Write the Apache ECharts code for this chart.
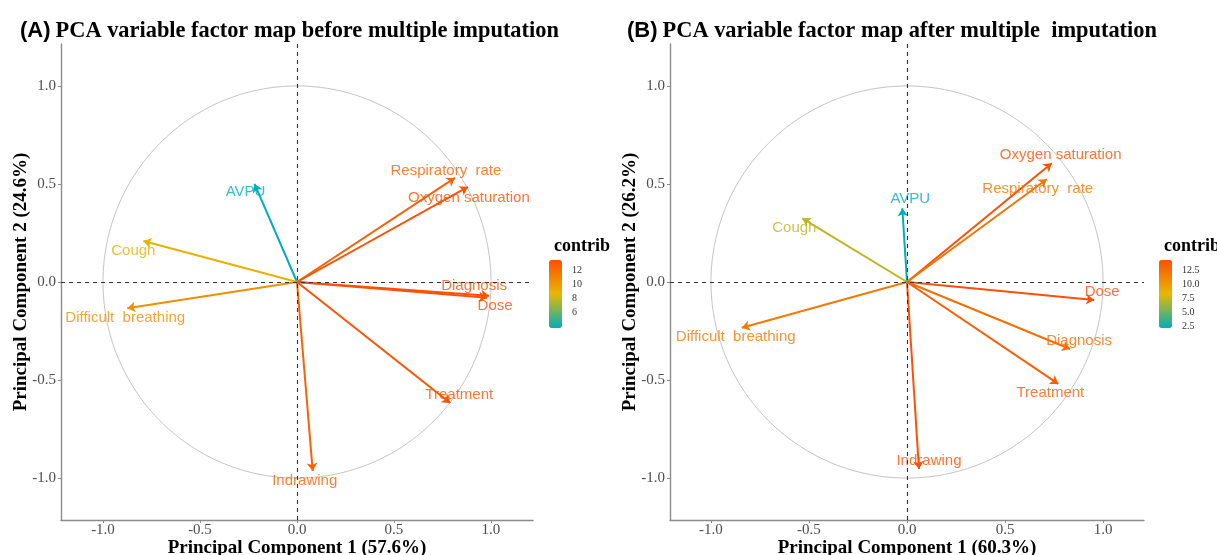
<!DOCTYPE html>
<html><head><meta charset="utf-8">
<script src="https://cdn.jsdelivr.net/npm/echarts@6/dist/echarts.min.js"></script>
<style>html,body{margin:0;padding:0;background:#fff}#c{width:1217px;height:555px}</style>
</head><body><div id="c"></div>
<script>
// ---- Panel A data (before multiple imputation) ----
const varsA = ['Respiratory  rate','Oxygen saturation','Diagnosis','Dose','Treatment','Indrawing','AVPU','Cough','Difficult  breathing'];
const pc1A = [0.814, 0.881, 0.99, 0.98, 0.79, 0.081, -0.219, -0.792, -0.875];
const pc2A = [0.531, 0.485, -0.07, -0.08, -0.617, -0.964, 0.5, 0.209, -0.134];
const contribA = [12.6, 13.3, 13.3, 13.4, 13.2, 12.6, 3.9, 9.0, 10.6];
const contribRangeA = [3.86, 13.47];
const legendTicksA = [6, 8, 10, 12];

// ---- Panel B data (after multiple imputation) ----
const varsB = ['Oxygen saturation','Respiratory  rate','Dose','Diagnosis','Treatment','Indrawing','AVPU','Cough','Difficult  breathing'];
const pc1B = [0.738, 0.713, 0.955, 0.832, 0.772, 0.061, -0.024, -0.534, -0.843];
const pc2B = [0.606, 0.524, -0.092, -0.342, -0.52, -0.954, 0.376, 0.325, -0.233];
const contribB = [14.1, 12.1, 14.3, 12.5, 13.4, 14.2, 2.2, 7.2, 11.9];
const contribRangeB = [2.2, 14.35];
const legendTicksB = [2.5, 5, 7.5, 10, 12.5];

const axisTicks = [-1, -0.5, 0, 0.5, 1];
const titleA = 'PCA variable factor map before multiple imputation';
const titleB = 'PCA variable factor map after multiple  imputation';
const xNameA = 'Principal Component 1 (57.6%)', yNameA = 'Principal Component 2 (24.6%)';
const xNameB = 'Principal Component 1 (60.3%)', yNameB = 'Principal Component 2 (26.2%)';

// ---- styling (label pixel offsets) ----
const offA = [[-9,-7],[1,11],[-15,-10],[8,8],[9,-8],[-8,10],[-9,8],[-10,10],[-2,10]];
const offB = [[9,-8],[-9,10],[8,-8],[9,-8],[-8,9],[10,-8],[8,-9],[-8,10],[-6,9]];
const gradCols = ['#00AFBB','#E7B800','#FC4E07'];

function hex2rgb(h){return [parseInt(h.slice(1,3),16),parseInt(h.slice(3,5),16),parseInt(h.slice(5,7),16)];}
function colorOf(v, lo, hi){
  let t = (v-lo)/(hi-lo); t = Math.max(0, Math.min(1, t));
  const seg = t*(gradCols.length-1); const i = Math.min(Math.floor(seg), gradCols.length-2); const f = seg - i;
  const a = hex2rgb(gradCols[i]), b = hex2rgb(gradCols[i+1]);
  return 'rgb(' + a.map((c,k)=>Math.round(c+(b[k]-c)*f)).join(',') + ')';
}

const circle = [];
for (let k = 0; k <= 360; k++) { const a = k*Math.PI/180; circle.push([Math.cos(a), Math.sin(a)]); }

const serif = '"Liberation Serif","Times New Roman",serif';
const sans = '"Liberation Sans",Arial,Helvetica,sans-serif';

function plotAxes(gi, xr, yr, xName, yName){
  const common = {
    type:'value', gridIndex: gi, splitLine:{show:false},
    axisLine:{show:true, onZero:false, lineStyle:{color:'#8c8c8c', width:1.4}},
    axisTick:{show:true, length:3, customValues: axisTicks, lineStyle:{color:'#8c8c8c'}},
    axisLabel:{customValues: axisTicks, formatter: v => v.toFixed(1), fontFamily: serif, fontSize:15, color:'#4d4d4d'},
    nameLocation:'middle', nameMoveOverlap:false,
    nameTextStyle:{fontFamily: serif, fontWeight:'bold', fontSize:19, color:'#000'}
  };
  const x = Object.assign({}, common, {min:-xr, max:xr, position:'bottom', name:xName, nameGap:19});
  x.axisLabel = Object.assign({}, common.axisLabel, {margin:3});
  const y = Object.assign({}, common, {min:-yr, max:yr, position:'left', name:yName, nameGap:30});
  y.axisLabel = Object.assign({}, common.axisLabel, {margin:5});
  return [x, y];
}

function panelSeries(gi, vars, p1, p2, contrib, rng, offs){
  const lineData = vars.map((n,i)=>({coords:[[0,0],[p1[i],p2[i]]], lineStyle:{color: colorOf(contrib[i], rng[0], rng[1])}}));
  const labelData = vars.map((n,i)=>({name:n, value:[p1[i],p2[i],contrib[i]],
    label:{offset: offs[i], color: colorOf(contrib[i], rng[0], rng[1])}}));
  return [
    {type:'line', xAxisIndex:gi, yAxisIndex:gi, data: circle, showSymbol:false, silent:true, z:1,
     lineStyle:{color:'#c4c4c4', width:1},
     markLine:{silent:true, symbol:'none', label:{show:false},
       lineStyle:{color:'#333', type:[4,4], width:1.1},
       data:[{xAxis:0},{yAxis:0}]}},
    {type:'lines', coordinateSystem:'cartesian2d', xAxisIndex:gi, yAxisIndex:gi, z:3, silent:true,
     symbol:['none','arrow'], symbolSize:[0,8],
     lineStyle:{width:2, opacity:1}, data: lineData},
    {type:'scatter', xAxisIndex:gi, yAxisIndex:gi, z:4, symbolSize:0.1, silent:true,
     label:{show:true, position:'inside', formatter: p=>p.name, fontFamily: sans, fontSize:15, align:'center', verticalAlign:'middle'},
     data: labelData}
  ];
}

const [xA, yA] = plotAxes(0, 1.2165, 1.214, xNameA, yNameA);
const [xB, yB] = plotAxes(1, 1.209, 1.214, xNameB, yNameB);

function legendAxes(gi, rng, ticks, dec){
  return [
    {type:'value', gridIndex:gi, show:false, min:0, max:1},
    {type:'value', gridIndex:gi, min:rng[0], max:rng[1], position:'right', splitLine:{show:false},
     axisLine:{show:false}, axisTick:{show:true, inside:true, length:3, customValues:ticks, lineStyle:{color:'rgba(255,255,255,0.7)'}},
     axisLabel:{customValues:ticks, margin:10, formatter: v=>v.toFixed(dec), fontFamily: serif, fontSize:10, color:'#333'}}
  ];
}
const [lxA, lyA] = legendAxes(2, contribRangeA, legendTicksA, 0);
const [lxB, lyB] = legendAxes(3, contribRangeB, legendTicksB, 1);

const chart = echarts.init(document.getElementById('c'), null, {renderer:'canvas'});
chart.setOption({
  backgroundColor:'#fff',
  animation:false,
  title:[
    {text:'{a|(A)} {b|' + titleA + '}', left:15, top:15,
     textStyle:{rich:{a:{fontFamily:sans, fontSize:22, color:'#000'}, b:{fontFamily:serif, fontWeight:'bold', fontSize:22.4, color:'#000'}}}},
    {text:'{a|(B)} {b|' + titleB + '}', left:622, top:15,
     textStyle:{rich:{a:{fontFamily:sans, fontSize:22, color:'#000'}, b:{fontFamily:serif, fontWeight:'bold', fontSize:22.4, color:'#000'}}}},
    {text:'contrib', left:549, top:232, textStyle:{fontFamily:serif, fontWeight:'bold', fontSize:18, color:'#000'}},
    {text:'contrib', left:1159, top:232, textStyle:{fontFamily:serif, fontWeight:'bold', fontSize:18, color:'#000'}}
  ],
  grid:[
    {left:61, top:44, width:472, height:476, outerBoundsMode:'none', containLabel:false},
    {left:670, top:44, width:474, height:476, outerBoundsMode:'none', containLabel:false},
    {left:549, top:260, width:13, height:68, outerBoundsMode:'none', containLabel:false},
    {left:1159, top:260, width:13, height:68, outerBoundsMode:'none', containLabel:false}
  ],
  xAxis:[xA, xB, lxA, lxB],
  yAxis:[yA, yB, lyA, lyB],
  visualMap:[
    {type:'continuous', min:contribRangeA[0], max:contribRangeA[1], seriesIndex:2, dimension:2,
     left:549, top:260, itemWidth:13, itemHeight:68, padding:0, calculable:false, hoverLink:false,
     inRange:{color:gradCols}},
    {type:'continuous', min:contribRangeB[0], max:contribRangeB[1], seriesIndex:5, dimension:2,
     left:1159, top:260, itemWidth:13, itemHeight:68, padding:0, calculable:false, hoverLink:false,
     inRange:{color:gradCols}}
  ],
  series:[].concat(
    panelSeries(0, varsA, pc1A, pc2A, contribA, contribRangeA, offA),
    panelSeries(1, varsB, pc1B, pc2B, contribB, contribRangeB, offB)
  )
});
</script></body></html>
